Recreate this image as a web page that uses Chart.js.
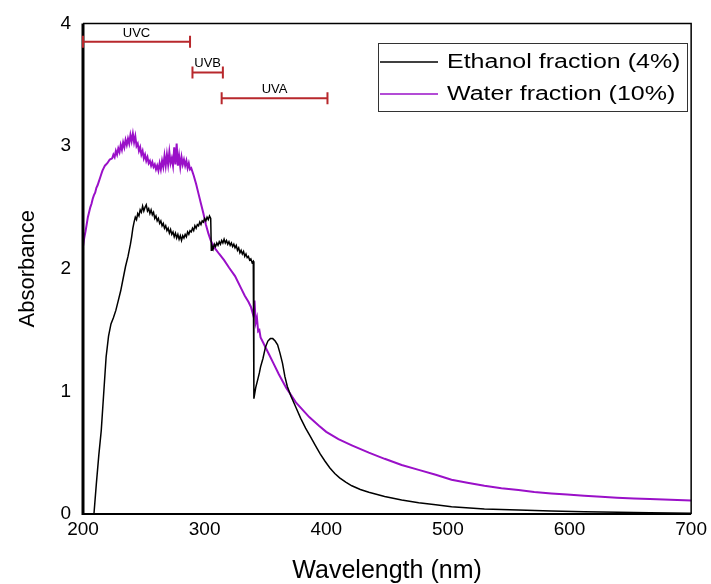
<!DOCTYPE html>
<html>
<head>
<meta charset="utf-8">
<script src="https://cdn.jsdelivr.net/npm/chart.js@4.4.0/dist/chart.umd.min.js"></script>
<style>
  html, body { margin: 0; padding: 0; background: #fff; }
  #wrap { width: 711px; height: 584px; }
</style>
</head>
<body>
<div id="wrap"><canvas id="uvChart" width="711" height="584"></canvas></div>
<script>
// Ethanol fraction (4%) - wavelength (nm) and absorbance
const ethanolNm = [
  209, 211, 213, 215, 217, 219, 221, 223, 225, 227, 229, 231, 233, 235, 237, 239, 240, 241, 242, 243,
  244, 245, 246, 247, 248, 249, 250, 251, 252, 253, 254, 255, 256, 257, 258, 259, 260, 261, 262, 263,
  264, 265, 266, 267, 268, 269, 270, 271, 272, 273, 274, 275, 276, 277, 278, 279, 280, 281, 282, 283,
  284, 285, 286, 287, 288, 289, 290, 291, 292, 293, 294, 295, 296, 297, 298, 299, 300, 301, 302, 303,
  304, 305, 305.5, 306, 307, 308, 309, 310, 311, 312, 313, 314, 315, 316, 317, 318, 319, 320, 321, 322,
  323, 324, 325, 326, 327, 328, 329, 330, 331, 332, 333, 334, 335, 336, 337, 338, 339, 340, 340.5, 342,
  343.5, 345, 346, 348, 350, 352, 354, 356, 358, 360, 362, 364, 366, 368, 371, 375, 379, 383, 387, 391,
  395, 399, 403, 407, 411, 416, 421, 428, 435, 448, 462, 476, 490, 503, 530, 558, 585, 612, 640, 666, 700
];
const ethanolAbs = [
  0.00, 0.25, 0.48, 0.68, 0.98, 1.28, 1.45, 1.55, 1.60, 1.66, 1.74, 1.82, 1.92, 2.02, 2.10, 2.20, 2.26, 2.33, 2.38, 2.42,
  2.40, 2.45, 2.43, 2.48, 2.46, 2.51, 2.47, 2.50, 2.52, 2.47, 2.49, 2.45, 2.48, 2.44, 2.46, 2.41, 2.43, 2.39, 2.41, 2.37,
  2.39, 2.35, 2.37, 2.33, 2.35, 2.31, 2.33, 2.29, 2.32, 2.28, 2.30, 2.26, 2.29, 2.25, 2.28, 2.24, 2.27, 2.23, 2.27, 2.25,
  2.28, 2.26, 2.30, 2.28, 2.31, 2.30, 2.33, 2.31, 2.35, 2.33, 2.36, 2.35, 2.38, 2.36, 2.39, 2.38, 2.41, 2.39, 2.42, 2.40,
  2.43, 2.41, 2.15, 2.19, 2.16, 2.20, 2.18, 2.21, 2.19, 2.22, 2.20, 2.23, 2.21, 2.24, 2.21, 2.23, 2.20, 2.22, 2.19, 2.21,
  2.18, 2.20, 2.17, 2.19, 2.15, 2.17, 2.13, 2.15, 2.12, 2.14, 2.10, 2.12, 2.09, 2.10, 2.07, 2.08, 2.05, 2.06, 0.94, 1.03,
  1.09, 1.15, 1.20, 1.27, 1.36, 1.41, 1.43, 1.43, 1.41, 1.38, 1.31, 1.23, 1.12, 1.04, 0.96, 0.87, 0.78, 0.70, 0.63, 0.56,
  0.49, 0.43, 0.375, 0.33, 0.295, 0.26, 0.23, 0.20, 0.178, 0.142, 0.115, 0.092, 0.075, 0.059, 0.04, 0.032, 0.024, 0.019, 0.014, 0.01, 0.006
];

// Water fraction (10%) - wavelength (nm) and absorbance
const waterNm = [
  200, 201, 202, 203, 204, 205, 206, 207, 208, 209, 210, 211, 212, 213, 214, 215, 216, 217, 218, 220,
  222, 224, 225, 226, 227, 228, 229, 230, 231, 232, 233, 234, 235, 236, 237, 238, 239, 240, 241, 242,
  243, 244, 245, 246, 247, 248, 249, 250, 251, 252, 253, 254, 255, 256, 257, 258, 259, 260, 261, 262,
  263, 264, 265, 266, 267, 268, 269, 270, 271, 272, 273, 274, 275, 276, 277, 278, 279, 280, 281, 282,
  283, 284, 285, 286, 287, 288, 289, 291, 293, 295, 297, 299, 301, 303, 305, 307, 309, 312, 316, 320,
  325, 330, 333, 336, 338, 340, 341, 342, 343, 344, 345, 346, 348, 350, 353, 356, 361, 367, 375, 386,
  394, 400, 410, 421, 435, 448, 462, 476, 490, 503, 516, 530, 544, 558, 571, 585, 598, 612, 626, 639,
  653, 666, 683, 700
];
const waterAbs = [
  2.18, 2.25, 2.30, 2.36, 2.42, 2.46, 2.50, 2.53, 2.57, 2.60, 2.62, 2.66, 2.68, 2.71, 2.74, 2.77, 2.80, 2.82, 2.84, 2.86,
  2.89, 2.90, 2.93, 2.91, 2.96, 2.93, 2.98, 2.95, 3.01, 2.97, 3.03, 2.99, 3.05, 3.01, 3.06, 3.02, 3.09, 3.04, 3.10, 3.03,
  3.08, 3.00, 3.02, 2.96, 2.99, 2.93, 2.96, 2.90, 2.93, 2.88, 2.91, 2.86, 2.88, 2.84, 2.87, 2.83, 2.85, 2.81, 2.84, 2.80,
  2.86, 2.81, 2.88, 2.83, 2.92, 2.84, 2.93, 2.85, 2.95, 2.86, 2.90, 2.84, 2.99, 2.85, 3.02, 2.84, 2.92, 2.83, 2.91, 2.85,
  2.89, 2.84, 2.88, 2.82, 2.86, 2.81, 2.82, 2.76, 2.69, 2.61, 2.53, 2.45, 2.36, 2.29, 2.23, 2.19, 2.16, 2.12, 2.07, 2.01,
  1.94, 1.84, 1.78, 1.73, 1.69, 1.62, 1.74, 1.56, 1.60, 1.49, 1.50, 1.44, 1.40, 1.36, 1.30, 1.24, 1.14, 1.03, 0.91, 0.79,
  0.72, 0.67, 0.61, 0.56, 0.50, 0.45, 0.40, 0.36, 0.32, 0.28, 0.255, 0.23, 0.21, 0.195, 0.18, 0.168, 0.158, 0.149, 0.141, 0.133,
  0.127, 0.122, 0.116, 0.111
];

// UV band markers
const uvBands = ["UVC", "UVB", "UVA"];
const uvFrom = [200, 290, 314];
const uvTo = [288, 315, 401];
const uvLevel = [3.85, 3.6, 3.39];

// Axis ticks
const xTicks = [200, 300, 400, 500, 600, 700];
const yTicks = [0, 1, 2, 3, 4];

const FONT = "'Liberation Sans', Arial, sans-serif";

function toPoints(xs, ys) {
    return xs.map((x, i) => ({ x: x, y: ys[i] }));
}

// Frame: thick left/bottom axes, thin top/right
const framePlugin = {
    id: "frame",
    afterDatasetsDraw(chart) {
        const { ctx, chartArea: a } = chart;
        ctx.save();
        ctx.strokeStyle = "#000";
        ctx.lineWidth = 1.5;
        ctx.beginPath();
        ctx.moveTo(a.left, a.top);
        ctx.lineTo(a.right, a.top);
        ctx.lineTo(a.right, a.bottom);
        ctx.stroke();
        ctx.lineWidth = 2;
        ctx.beginPath();
        ctx.moveTo(a.left, a.bottom);
        ctx.lineTo(a.right, a.bottom);
        ctx.stroke();
        ctx.lineWidth = 3;
        ctx.beginPath();
        ctx.moveTo(a.left, a.top);
        ctx.lineTo(a.left, a.bottom + 1);
        ctx.stroke();
        ctx.restore();
    }
};

// UV band range bars with end caps
const uvPlugin = {
    id: "uvBands",
    afterDatasetsDraw(chart) {
        const { ctx, scales: { x, y } } = chart;
        ctx.save();
        ctx.strokeStyle = "#b8282c";
        ctx.lineWidth = 2;
        ctx.fillStyle = "#000";
        ctx.font = "13px " + FONT;
        ctx.textAlign = "center";
        ctx.textBaseline = "alphabetic";
        for (let i = 0; i < uvBands.length; i++) {
            const x1 = x.getPixelForValue(uvFrom[i]);
            const x2 = x.getPixelForValue(uvTo[i]);
            const py = y.getPixelForValue(uvLevel[i]);
            ctx.beginPath();
            ctx.moveTo(x1, py);
            ctx.lineTo(x2, py);
            ctx.moveTo(x1, py - 6);
            ctx.lineTo(x1, py + 6);
            ctx.moveTo(x2, py - 6);
            ctx.lineTo(x2, py + 6);
            ctx.stroke();
            ctx.fillText(uvBands[i], (x1 + x2) / 2, py - 5);
        }
        ctx.restore();
    }
};

// Boxed legend in the upper right
const legendPlugin = {
    id: "boxLegend",
    afterDraw(chart) {
        const { ctx } = chart;
        const left = 378, top = 43, right = 687, bottom = 111;
        ctx.save();
        ctx.fillStyle = "#fff";
        ctx.fillRect(left, top, right - left, bottom - top);
        ctx.strokeStyle = "#333";
        ctx.lineWidth = 1;
        ctx.strokeRect(left + 0.5, top + 0.5, right - left, bottom - top);
        const rows = [62, 94];
        chart.data.datasets.forEach((ds, i) => {
            ctx.strokeStyle = ds.borderColor;
            ctx.lineWidth = 1.5;
            ctx.beginPath();
            ctx.moveTo(380, rows[i]);
            ctx.lineTo(438, rows[i]);
            ctx.stroke();
            ctx.save();
            ctx.translate(447, rows[i] + 6);
            ctx.scale(1.25, 1);
            ctx.fillStyle = "#000";
            ctx.font = "20px " + FONT;
            ctx.textAlign = "left";
            ctx.textBaseline = "alphabetic";
            ctx.fillText(ds.label, 0, 0);
            ctx.restore();
        });
        ctx.restore();
    }
};

const chart = new Chart(document.getElementById("uvChart").getContext("2d"), {
    type: "scatter",
    data: {
        datasets: [
            {
                label: "Ethanol fraction (4%)",
                data: toPoints(ethanolNm, ethanolAbs),
                showLine: true,
                borderColor: "#000000",
                borderWidth: 1.5,
                pointRadius: 0,
                tension: 0,
                fill: false,
            },
            {
                label: "Water fraction (10%)",
                data: toPoints(waterNm, waterAbs),
                showLine: true,
                borderColor: "#9a10c8",
                borderWidth: 2,
                pointRadius: 0,
                tension: 0,
                fill: false,
            },
        ],
    },
    options: {
        responsive: false,
        animation: false,
        layout: { padding: { top: 22, right: 17, left: 0, bottom: 0 } },
        plugins: {
            legend: { display: false },
            tooltip: { enabled: false },
        },
        scales: {
            x: {
                type: "linear",
                min: 200,
                max: 700,
                afterBuildTicks: s => { s.ticks = xTicks.map(v => ({ value: v })); },
                afterFit: s => { s.height = 70; },
                grid: { display: false, drawTicks: false },
                border: { display: false },
                ticks: {
                    color: "#000",
                    padding: 4,
                    font: { family: FONT, size: 19 },
                    maxRotation: 0,
                },
                title: {
                    display: true,
                    text: "Wavelength (nm)",
                    color: "#000",
                    font: { family: FONT, size: 25, lineHeight: 1 },
                    padding: { top: 0, bottom: 0 },
                },
            },
            y: {
                type: "linear",
                min: 0,
                max: 4,
                afterBuildTicks: s => { s.ticks = yTicks.map(v => ({ value: v })); },
                afterFit: s => { s.width = 83; },
                grid: { display: false, drawTicks: false },
                border: { display: false },
                ticks: {
                    color: "#000",
                    padding: 12,
                    font: { family: FONT, size: 19 },
                },
                title: {
                    display: true,
                    text: "Absorbance",
                    color: "#000",
                    font: { family: FONT, size: 22, lineHeight: 1 },
                    padding: { top: 17, bottom: 0 },
                },
            },
        },
    },
    plugins: [framePlugin, uvPlugin, legendPlugin],
});
</script>
</body>
</html>
